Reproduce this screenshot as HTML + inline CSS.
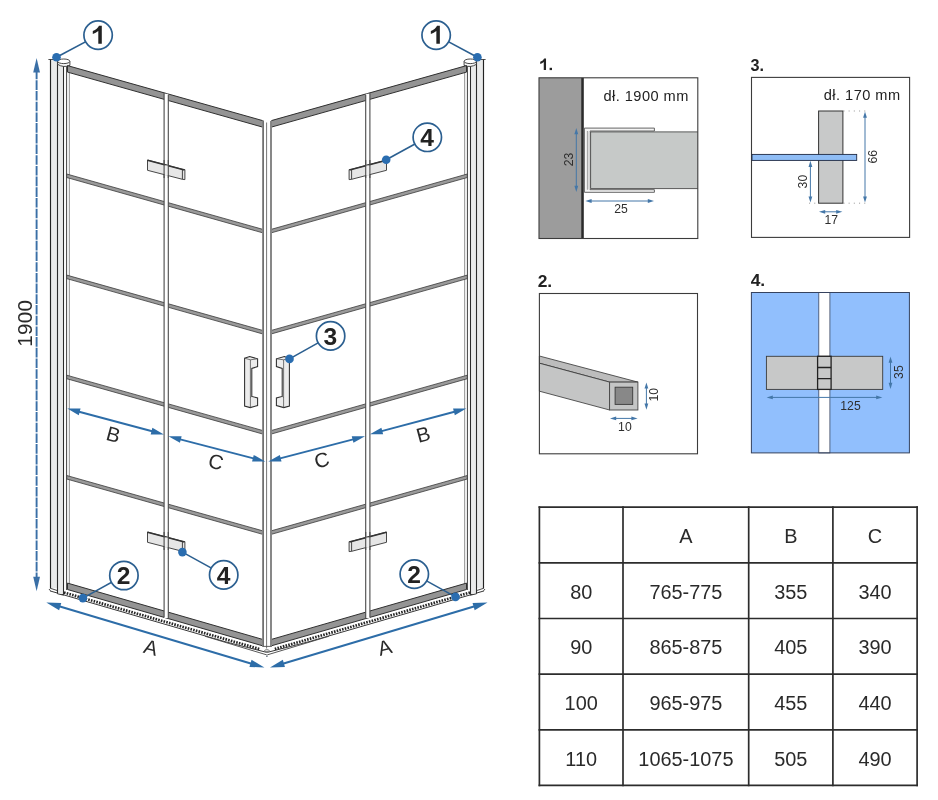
<!DOCTYPE html>
<html><head><meta charset="utf-8"><title>Kabina - wymiary</title>
<style>html,body{margin:0;padding:0;background:#fff}svg{display:block;will-change:transform}text{font-family:"Liberation Sans",sans-serif}</style></head><body>
<svg width="938" height="800" viewBox="0 0 938 800">
<rect width="938" height="800" fill="#fff"/>
<g id="left"><polygon points="63.0,588.35 266.8,647.01 266.8,654.8 63.0,595.75" fill="#fff" stroke="none"/><polyline points="50.0,590.91 225,641.68 266.8,652.4" fill="none" stroke="#383838" stroke-width="1.0"/><polyline points="205,636.22 266.8,654.9" fill="none" stroke="#444" stroke-width="0.9"/><line x1="64.0" y1="592.54" x2="259.6" y2="649.04" stroke="#262626" stroke-width="2.7" stroke-dasharray="1.6 1.2"/><rect x="50.4" y="59.6" width="7" height="528.6" fill="#e9eaea"/><rect x="57.6" y="62.5" width="6" height="531.5" fill="#e9eaea"/><rect x="63.6" y="64" width="3" height="526" fill="#fbfbfb"/><rect x="66.6" y="66" width="3.2" height="518" fill="#ececec"/><line x1="50.5" y1="59.2" x2="50.5" y2="588.5" stroke="#222" stroke-width="1.15"/><line x1="57.5" y1="61" x2="57.5" y2="593.8" stroke="#2a2a2a" stroke-width="1.1"/><line x1="63.5" y1="64" x2="63.5" y2="594" stroke="#2a2a2a" stroke-width="1.05"/><line x1="66.5" y1="66" x2="66.5" y2="590" stroke="#4a4a4a" stroke-width="0.95"/><line x1="69.5" y1="67" x2="69.5" y2="584" stroke="#9a9a9a" stroke-width="0.9"/><path d="M48.4,59.5 L57.4,59.5" fill="none" stroke="#3a3a3a" stroke-width="0.9"/><path d="M57.6,61.2 L57.6,64.3 Q63.4,68.0 69.9,65.4 L69.9,61.6 Z" fill="#f7f7f7" stroke="#333" stroke-width="0.9"/><ellipse cx="63.75" cy="61.3" rx="6.15" ry="2.3" fill="#fff" stroke="#333" stroke-width="0.9"/><path d="M50.4,588.3 L57.5,590.6 M57.5,593.8 L63.6,595.2 L63.6,591.5 M49,589 L50.4,590.8" fill="none" stroke="#333" stroke-width="0.9"/><polygon points="67.5,65.6 262.6,120.6 262.6,127.1 67.5,72.1" fill="#949494" stroke="#303030" stroke-width="1"/><polygon points="67.5,583.1 262.6,639.4 262.6,645.8 67.5,589.5" fill="#949494" stroke="#303030" stroke-width="1"/><polygon points="66.7,174.0 262.6,229.3 262.6,232.8 66.7,177.5" fill="#9a9a9a" stroke="#3a3a3a" stroke-width="0.8"/><polygon points="66.7,275.1 262.6,330.40000000000003 262.6,333.90000000000003 66.7,278.6" fill="#9a9a9a" stroke="#3a3a3a" stroke-width="0.8"/><polygon points="66.7,375.2 262.6,430.5 262.6,434.0 66.7,378.7" fill="#9a9a9a" stroke="#3a3a3a" stroke-width="0.8"/><polygon points="66.7,475.5 262.6,530.8 262.6,534.3 66.7,479.0" fill="#9a9a9a" stroke="#3a3a3a" stroke-width="0.8"/><rect x="164.1" y="93.79" width="4.200000000000017" height="524.26" fill="#fff"/><line x1="164.1" y1="93.19" x2="164.1" y2="617.45" stroke="#4a4a4a" stroke-width="1.1"/><line x1="168.3" y1="94.39" x2="168.3" y2="618.65" stroke="#4a4a4a" stroke-width="1.1"/><polygon points="147.5,160.0 182.4,169.3 184.9,169.6 184.9,179.6 182.4,179.3 147.5,170.3" fill="#e6e6e6" stroke="#333" stroke-width="0.9"/><line x1="147.5" y1="160.3" x2="184.5" y2="169.9" stroke="#333" stroke-width="1.5"/><line x1="182.4" y1="169.3" x2="182.4" y2="179.3" stroke="#333" stroke-width="0.9"/><rect x="164.6" y="165.4" width="3.200000000000017" height="10.5" fill="#f0f0f0"/><line x1="164.1" y1="160.0" x2="164.1" y2="178.0" stroke="#4a4a4a" stroke-width="1.1"/><line x1="168.3" y1="160.0" x2="168.3" y2="178.0" stroke="#4a4a4a" stroke-width="1.1"/><polygon points="147.5,532.0 182.4,541.3 184.9,541.6 184.9,551.6 182.4,551.3 147.5,542.3" fill="#e6e6e6" stroke="#333" stroke-width="0.9"/><line x1="147.5" y1="532.3" x2="184.5" y2="541.9" stroke="#333" stroke-width="1.5"/><line x1="182.4" y1="541.3" x2="182.4" y2="551.3" stroke="#333" stroke-width="0.9"/><rect x="164.6" y="537.4" width="3.200000000000017" height="10.5" fill="#f0f0f0"/><line x1="164.1" y1="532.0" x2="164.1" y2="550.0" stroke="#4a4a4a" stroke-width="1.1"/><line x1="168.3" y1="532.0" x2="168.3" y2="550.0" stroke="#4a4a4a" stroke-width="1.1"/><path d="M244.6,358.2 L249.6,356.6 L257.6,358.8 L257.6,366.6 L251.8,368.4 L251.8,396.4 L257.6,398 L257.6,405.6 L250.2,407.6 L244.6,406 Z" fill="#ececec" stroke="#2e2e2e" stroke-width="1.05"/><path d="M244.6,358.2 L250.4,359.8 L250.4,407.4 M250.4,359.8 L257.6,358.8 M251.8,396.4 L250.4,397.4" fill="none" stroke="#555" stroke-width="0.8"/></g>
<g id="right" transform="translate(534,0) scale(-1,1)"><polygon points="63.0,588.35 266.8,647.01 266.8,654.8 63.0,595.75" fill="#fff" stroke="none"/><polyline points="50.0,590.91 225,641.68 266.8,652.4" fill="none" stroke="#383838" stroke-width="1.0"/><polyline points="205,636.22 266.8,654.9" fill="none" stroke="#444" stroke-width="0.9"/><line x1="64.0" y1="592.54" x2="259.6" y2="649.04" stroke="#262626" stroke-width="2.7" stroke-dasharray="1.6 1.2"/><rect x="50.4" y="59.6" width="7" height="528.6" fill="#e9eaea"/><rect x="57.6" y="62.5" width="6" height="531.5" fill="#e9eaea"/><rect x="63.6" y="64" width="3" height="526" fill="#fbfbfb"/><rect x="66.6" y="66" width="3.2" height="518" fill="#ececec"/><line x1="50.5" y1="59.2" x2="50.5" y2="588.5" stroke="#222" stroke-width="1.15"/><line x1="57.5" y1="61" x2="57.5" y2="593.8" stroke="#2a2a2a" stroke-width="1.1"/><line x1="63.5" y1="64" x2="63.5" y2="594" stroke="#2a2a2a" stroke-width="1.05"/><line x1="66.5" y1="66" x2="66.5" y2="590" stroke="#4a4a4a" stroke-width="0.95"/><line x1="69.5" y1="67" x2="69.5" y2="584" stroke="#9a9a9a" stroke-width="0.9"/><path d="M48.4,59.5 L57.4,59.5" fill="none" stroke="#3a3a3a" stroke-width="0.9"/><path d="M57.6,61.2 L57.6,64.3 Q63.4,68.0 69.9,65.4 L69.9,61.6 Z" fill="#f7f7f7" stroke="#333" stroke-width="0.9"/><ellipse cx="63.75" cy="61.3" rx="6.15" ry="2.3" fill="#fff" stroke="#333" stroke-width="0.9"/><path d="M50.4,588.3 L57.5,590.6 M57.5,593.8 L63.6,595.2 L63.6,591.5 M49,589 L50.4,590.8" fill="none" stroke="#333" stroke-width="0.9"/><polygon points="67.5,65.6 262.6,120.6 262.6,127.1 67.5,72.1" fill="#949494" stroke="#303030" stroke-width="1"/><polygon points="67.5,583.1 262.6,639.4 262.6,645.8 67.5,589.5" fill="#949494" stroke="#303030" stroke-width="1"/><polygon points="66.7,174.0 262.6,229.3 262.6,232.8 66.7,177.5" fill="#9a9a9a" stroke="#3a3a3a" stroke-width="0.8"/><polygon points="66.7,275.1 262.6,330.40000000000003 262.6,333.90000000000003 66.7,278.6" fill="#9a9a9a" stroke="#3a3a3a" stroke-width="0.8"/><polygon points="66.7,375.2 262.6,430.5 262.6,434.0 66.7,378.7" fill="#9a9a9a" stroke="#3a3a3a" stroke-width="0.8"/><polygon points="66.7,475.5 262.6,530.8 262.6,534.3 66.7,479.0" fill="#9a9a9a" stroke="#3a3a3a" stroke-width="0.8"/><rect x="164.1" y="93.79" width="4.200000000000017" height="524.26" fill="#fff"/><line x1="164.1" y1="93.19" x2="164.1" y2="617.45" stroke="#4a4a4a" stroke-width="1.1"/><line x1="168.3" y1="94.39" x2="168.3" y2="618.65" stroke="#4a4a4a" stroke-width="1.1"/><polygon points="147.5,160.0 182.4,169.3 184.9,169.6 184.9,179.6 182.4,179.3 147.5,170.3" fill="#e6e6e6" stroke="#333" stroke-width="0.9"/><line x1="147.5" y1="160.3" x2="184.5" y2="169.9" stroke="#333" stroke-width="1.5"/><line x1="182.4" y1="169.3" x2="182.4" y2="179.3" stroke="#333" stroke-width="0.9"/><rect x="164.6" y="165.4" width="3.200000000000017" height="10.5" fill="#f0f0f0"/><line x1="164.1" y1="160.0" x2="164.1" y2="178.0" stroke="#4a4a4a" stroke-width="1.1"/><line x1="168.3" y1="160.0" x2="168.3" y2="178.0" stroke="#4a4a4a" stroke-width="1.1"/><polygon points="147.5,532.0 182.4,541.3 184.9,541.6 184.9,551.6 182.4,551.3 147.5,542.3" fill="#e6e6e6" stroke="#333" stroke-width="0.9"/><line x1="147.5" y1="532.3" x2="184.5" y2="541.9" stroke="#333" stroke-width="1.5"/><line x1="182.4" y1="541.3" x2="182.4" y2="551.3" stroke="#333" stroke-width="0.9"/><rect x="164.6" y="537.4" width="3.200000000000017" height="10.5" fill="#f0f0f0"/><line x1="164.1" y1="532.0" x2="164.1" y2="550.0" stroke="#4a4a4a" stroke-width="1.1"/><line x1="168.3" y1="532.0" x2="168.3" y2="550.0" stroke="#4a4a4a" stroke-width="1.1"/><path d="M244.6,358.2 L249.6,356.6 L257.6,358.8 L257.6,366.6 L251.8,368.4 L251.8,396.4 L257.6,398 L257.6,405.6 L250.2,407.6 L244.6,406 Z" fill="#ececec" stroke="#2e2e2e" stroke-width="1.05"/><path d="M244.6,358.2 L250.4,359.8 L250.4,407.4 M250.4,359.8 L257.6,358.8 M251.8,396.4 L250.4,397.4" fill="none" stroke="#555" stroke-width="0.8"/></g>
<rect x="262.3" y="120.8" width="9.6" height="526" fill="#fff"/>
<line x1="263.1" y1="120.6" x2="263.1" y2="646.5" stroke="#6a6a6a" stroke-width="1.7"/>
<line x1="266.6" y1="122.5" x2="266.6" y2="648.5" stroke="#777" stroke-width="1.0"/>
<line x1="271.0" y1="121" x2="271.0" y2="646.5" stroke="#6a6a6a" stroke-width="1.6"/>
<path d="M262.4,646.4 L271.8,646.4" fill="none" stroke="#555" stroke-width="0.9"/>
<ellipse cx="266.9" cy="650.6" rx="2.3" ry="0.9" fill="#fff" stroke="#444" stroke-width="0.7"/>
<circle cx="266.9" cy="656.2" r="0.8" fill="#4a5a6a"/>
<line x1="36.60" y1="69.60" x2="36.60" y2="579.70" stroke="#3a6fa6" stroke-width="1.9" stroke-dasharray="9.6 1.1"/><polygon points="36.60,591.30 33.20,576.80 40.00,576.80" fill="#3a6fa6"/><polygon points="36.60,58.00 33.20,72.50 40.00,72.50" fill="#3a6fa6"/>
<line x1="57.42" y1="605.81" x2="253.28" y2="664.19" stroke="#2d6da8" stroke-width="2.0"/><polygon points="264.40,667.50 249.45,666.90 251.56,659.81" fill="#2d6da8"/><polygon points="46.30,602.50 59.14,610.19 61.25,603.10" fill="#2d6da8"/>
<line x1="281.11" y1="664.18" x2="476.39" y2="605.82" stroke="#2d6da8" stroke-width="2.0"/><polygon points="487.50,602.50 474.67,610.20 472.55,603.11" fill="#2d6da8"/><polygon points="270.00,667.50 284.95,666.89 282.83,659.80" fill="#2d6da8"/>
<line x1="77.19" y1="411.24" x2="154.01" y2="431.76" stroke="#2d6da8" stroke-width="1.9"/><polygon points="163.90,434.40 150.66,434.38 152.41,427.81" fill="#2d6da8"/><polygon points="67.30,408.60 78.79,415.19 80.54,408.62" fill="#2d6da8"/>
<line x1="178.31" y1="438.88" x2="255.39" y2="458.92" stroke="#2d6da8" stroke-width="1.9"/><polygon points="265.30,461.50 252.06,461.57 253.77,454.99" fill="#2d6da8"/><polygon points="168.40,436.30 179.93,442.81 181.64,436.23" fill="#2d6da8"/>
<line x1="278.21" y1="458.92" x2="355.09" y2="438.88" stroke="#2d6da8" stroke-width="1.9"/><polygon points="365.00,436.30 353.47,442.82 351.76,436.24" fill="#2d6da8"/><polygon points="268.30,461.50 281.54,461.56 279.83,454.98" fill="#2d6da8"/>
<line x1="379.79" y1="431.66" x2="456.41" y2="411.24" stroke="#2d6da8" stroke-width="1.9"/><polygon points="466.30,408.60 454.81,415.18 453.06,408.61" fill="#2d6da8"/><polygon points="369.90,434.30 383.14,434.29 381.39,427.72" fill="#2d6da8"/>
<text transform="translate(31.7,323.2) rotate(-90)" text-anchor="middle" font-size="20.6" letter-spacing="0.3" fill="#2a2a2a">1900</text>
<text transform="translate(113.5,434.2) rotate(15)" x="0" y="7.3" text-anchor="middle" font-size="20.4" fill="#2a2a2a">B</text>
<text transform="translate(215.9,461.5) rotate(15)" x="0" y="7.3" text-anchor="middle" font-size="20.4" fill="#2a2a2a">C</text>
<text transform="translate(321.6,459.8) rotate(-15)" x="0" y="7.3" text-anchor="middle" font-size="20.4" fill="#2a2a2a">C</text>
<text transform="translate(423.1,434.2) rotate(-15)" x="0" y="7.3" text-anchor="middle" font-size="20.4" fill="#2a2a2a">B</text>
<text transform="translate(150.9,647.2) rotate(15)" x="0" y="7.3" text-anchor="middle" font-size="20.4" fill="#2a2a2a">A</text>
<text transform="translate(384.6,647.2) rotate(-15)" x="0" y="7.3" text-anchor="middle" font-size="20.4" fill="#2a2a2a">A</text>
<line x1="98.1" y1="35.1" x2="56.5" y2="57.3" stroke="#2b5f90" stroke-width="1.6"/><circle cx="56.5" cy="57.3" r="4.3" fill="#2a6db0"/><circle cx="98.1" cy="35.1" r="14.2" fill="#fff" stroke="#2b5f90" stroke-width="1.7"/><path d="M101.80,43.70 L98.30,43.70 L98.30,31.10 Q95.80,33.20 92.80,34.10 L92.80,31.00 Q97.50,29.20 99.00,25.80 L101.80,25.80 Z" fill="#222"/>
<line x1="436.15" y1="35.1" x2="477.4" y2="57.3" stroke="#2b5f90" stroke-width="1.6"/><circle cx="477.4" cy="57.3" r="4.3" fill="#2a6db0"/><circle cx="436.15" cy="35.1" r="14.2" fill="#fff" stroke="#2b5f90" stroke-width="1.7"/><path d="M439.85,43.70 L436.35,43.70 L436.35,31.10 Q433.85,33.20 430.85,34.10 L430.85,31.00 Q435.55,29.20 437.05,25.80 L439.85,25.80 Z" fill="#222"/>
<line x1="427.3" y1="137.3" x2="386.2" y2="159.8" stroke="#2b5f90" stroke-width="1.6"/><circle cx="386.2" cy="159.8" r="4.3" fill="#2a6db0"/><circle cx="427.3" cy="137.3" r="14.2" fill="#fff" stroke="#2b5f90" stroke-width="1.7"/><text x="427.1" y="146.10000000000002" text-anchor="middle" font-size="24.6" font-weight="bold" fill="#222">4</text>
<line x1="330.6" y1="335.9" x2="289.5" y2="358.9" stroke="#2b5f90" stroke-width="1.6"/><circle cx="289.5" cy="358.9" r="4.3" fill="#2a6db0"/><circle cx="330.6" cy="335.9" r="14.2" fill="#fff" stroke="#2b5f90" stroke-width="1.7"/><text x="330.40000000000003" y="344.7" text-anchor="middle" font-size="24.6" font-weight="bold" fill="#222">3</text>
<line x1="123.9" y1="575.5" x2="82.9" y2="598.1" stroke="#2b5f90" stroke-width="1.6"/><circle cx="82.9" cy="598.1" r="4.3" fill="#2a6db0"/><circle cx="123.9" cy="575.5" r="14.2" fill="#fff" stroke="#2b5f90" stroke-width="1.7"/><text x="123.7" y="584.3" text-anchor="middle" font-size="24.6" font-weight="bold" fill="#222">2</text>
<line x1="223.7" y1="574.9" x2="182.4" y2="552.1" stroke="#2b5f90" stroke-width="1.6"/><circle cx="182.4" cy="552.1" r="4.3" fill="#2a6db0"/><circle cx="223.7" cy="574.9" r="14.2" fill="#fff" stroke="#2b5f90" stroke-width="1.7"/><text x="223.5" y="583.6999999999999" text-anchor="middle" font-size="24.6" font-weight="bold" fill="#222">4</text>
<line x1="414.3" y1="574.1" x2="455.5" y2="596.9" stroke="#2b5f90" stroke-width="1.6"/><circle cx="455.5" cy="596.9" r="4.3" fill="#2a6db0"/><circle cx="414.3" cy="574.1" r="14.2" fill="#fff" stroke="#2b5f90" stroke-width="1.7"/><text x="414.1" y="582.9" text-anchor="middle" font-size="24.6" font-weight="bold" fill="#222">2</text>
<path d="M546.03,70.10 L543.76,70.10 L543.76,61.93 Q542.14,63.30 540.20,63.88 L540.20,61.87 Q543.25,60.70 544.22,58.50 L546.03,58.50 Z" fill="#222"/><rect x="549.6" y="67.8" width="2.4" height="2.3" fill="#222"/><text x="750.6" y="70.5" font-size="16.2" font-weight="bold" fill="#222">3.</text><text x="537.7" y="286.9" font-size="17.4" font-weight="bold" fill="#222">2.</text><text x="750.7" y="285.8" font-size="17.4" font-weight="bold" fill="#222">4.</text><rect x="539" y="77.8" width="158.8" height="160.7" fill="#fff"/><rect x="539" y="77.8" width="42.5" height="160.7" fill="#9c9c9c"/><rect x="581.2" y="77.8" width="2.6" height="160.7" fill="#2b2b2b"/><path d="M584.4,128.1 H654.4 V131 H590 V189.7 H654.4 V192.3 H584.4 Z" fill="#f4f4f4" stroke="#555" stroke-width="0.9"/><path d="M587.4,131 V189.7" fill="none" stroke="#777" stroke-width="0.8"/><rect x="587.8" y="131.4" width="2" height="58" fill="#dcdcdc"/><rect x="590.6" y="131.9" width="107.2" height="56.7" fill="#c6c9c8"/><path d="M697.8,131.9 H590.6 V188.6 H697.8" fill="none" stroke="#4a4a4a" stroke-width="0.9"/><rect x="539" y="77.8" width="158.8" height="160.7" fill="none" stroke="#3c3c3c" stroke-width="1.1"/><text x="603.5" y="100.7" font-size="14.6" letter-spacing="0.45" fill="#222">dł. 1900 mm</text><line x1="576.30" y1="133.06" x2="576.30" y2="187.04" stroke="#4477a8" stroke-width="1.0"/><polygon points="576.30,192.00 574.40,185.80 578.20,185.80" fill="#4477a8"/><polygon points="576.30,128.10 574.40,134.30 578.20,134.30" fill="#4477a8"/><line x1="590.36" y1="201.00" x2="649.04" y2="201.00" stroke="#4477a8" stroke-width="1.0"/><polygon points="654.00,201.00 647.80,202.90 647.80,199.10" fill="#4477a8"/><polygon points="585.40,201.00 591.60,202.90 591.60,199.10" fill="#4477a8"/><text transform="translate(573.3,159.4) rotate(-90)" text-anchor="middle" font-size="12.2" fill="#2e2e2e">23</text><text x="621" y="212.8" text-anchor="middle" font-size="12.2" fill="#2e2e2e">25</text><rect x="751.5" y="77.4" width="158.1" height="160" fill="#fff" stroke="#3c3c3c" stroke-width="1.1"/><rect x="818.6" y="111" width="24.3" height="92.2" fill="#c8c9c9" stroke="#333" stroke-width="1"/><rect x="752" y="154.4" width="104.7" height="6" fill="#8fbdf6" stroke="#1f2a44" stroke-width="0.9"/><line x1="843.4" y1="111" x2="868.5" y2="111" stroke="#777" stroke-width="0.7" stroke-dasharray="1.1 4.1"/><line x1="843.4" y1="203.2" x2="868.5" y2="203.2" stroke="#777" stroke-width="0.7" stroke-dasharray="1.1 4.1"/><line x1="809" y1="203.2" x2="818" y2="203.2" stroke="#777" stroke-width="0.7" stroke-dasharray="1.1 4.1"/><text x="823.8" y="99.7" font-size="14.6" letter-spacing="0.45" fill="#222">dł. 170 mm</text><line x1="865.00" y1="116.56" x2="865.00" y2="197.64" stroke="#4477a8" stroke-width="1.0"/><polygon points="865.00,202.60 863.10,196.40 866.90,196.40" fill="#4477a8"/><polygon points="865.00,111.60 863.10,117.80 866.90,117.80" fill="#4477a8"/><line x1="810.40" y1="165.76" x2="810.40" y2="197.64" stroke="#4477a8" stroke-width="1.0"/><polygon points="810.40,202.60 808.50,196.40 812.30,196.40" fill="#4477a8"/><polygon points="810.40,160.80 808.50,167.00 812.30,167.00" fill="#4477a8"/><line x1="823.96" y1="211.80" x2="837.44" y2="211.80" stroke="#4477a8" stroke-width="1.0"/><polygon points="842.40,211.80 836.20,213.70 836.20,209.90" fill="#4477a8"/><polygon points="819.00,211.80 825.20,213.70 825.20,209.90" fill="#4477a8"/><text transform="translate(877,156.7) rotate(-90)" text-anchor="middle" font-size="12.2" fill="#2e2e2e">66</text><text transform="translate(807.2,181.6) rotate(-90)" text-anchor="middle" font-size="12.2" fill="#2e2e2e">30</text><text x="831.3" y="224" text-anchor="middle" font-size="12.2" fill="#2e2e2e">17</text><rect x="539.4" y="293.5" width="158.1" height="160.3" fill="#fff"/><polygon points="539.4,356 637.9,382.1 609.6,382.1 539.4,363.2" fill="#bcbcbc" stroke="#333" stroke-width="0.8"/><polygon points="539.4,363.2 609.6,382.1 609.6,410 539.4,391.2" fill="#c4c5c5" stroke="#333" stroke-width="0.8"/><rect x="609.6" y="382.1" width="28.3" height="27.9" fill="#c4c5c5" stroke="#444" stroke-width="0.9"/><rect x="615.1" y="387.2" width="17.6" height="17.2" fill="#888" stroke="#3a3a3a" stroke-width="0.9"/><rect x="539.4" y="293.5" width="158.1" height="160.3" fill="none" stroke="#3c3c3c" stroke-width="1.1"/><line x1="646.40" y1="387.36" x2="646.40" y2="404.74" stroke="#4477a8" stroke-width="1.0"/><polygon points="646.40,409.70 644.50,403.50 648.30,403.50" fill="#4477a8"/><polygon points="646.40,382.40 644.50,388.60 648.30,388.60" fill="#4477a8"/><line x1="614.96" y1="418.40" x2="632.64" y2="418.40" stroke="#4477a8" stroke-width="1.0"/><polygon points="637.60,418.40 631.40,420.30 631.40,416.50" fill="#4477a8"/><polygon points="610.00,418.40 616.20,420.30 616.20,416.50" fill="#4477a8"/><text transform="translate(657.9,394.8) rotate(-90)" text-anchor="middle" font-size="12.2" fill="#2e2e2e">10</text><text x="624.9" y="430.6" text-anchor="middle" font-size="12.2" fill="#2e2e2e">10</text><rect x="751.4" y="292.5" width="158" height="160.4" fill="#91bffd"/><rect x="818.8" y="292.5" width="11.1" height="160.4" fill="#fff" stroke="#3a4660" stroke-width="0.8"/><rect x="766.4" y="356.3" width="116.3" height="33.1" fill="#c7c8c8" stroke="#3a3a3a" stroke-width="0.9"/><rect x="817.6" y="356.3" width="13.5" height="33.1" fill="#c7c8c8" stroke="#222" stroke-width="1.3"/><path d="M817.6,367.5 H831.1 M817.6,378.6 H831.1" stroke="#222" stroke-width="1.3" fill="none"/><rect x="751.4" y="292.5" width="158" height="160.4" fill="none" stroke="#35425e" stroke-width="1"/><line x1="771.56" y1="397.40" x2="877.44" y2="397.40" stroke="#4477a8" stroke-width="1.0"/><polygon points="882.40,397.40 876.20,399.30 876.20,395.50" fill="#4477a8"/><polygon points="766.60,397.40 772.80,399.30 772.80,395.50" fill="#4477a8"/><line x1="890.50" y1="361.56" x2="890.50" y2="384.04" stroke="#4477a8" stroke-width="1.0"/><polygon points="890.50,389.00 888.60,382.80 892.40,382.80" fill="#4477a8"/><polygon points="890.50,356.60 888.60,362.80 892.40,362.80" fill="#4477a8"/><text x="850.5" y="409.9" text-anchor="middle" font-size="12.2" fill="#2e2e2e">125</text><text transform="translate(903,372.1) rotate(-90)" text-anchor="middle" font-size="12.2" fill="#2e2e2e">35</text>
<rect x="539.4" y="507.2" width="377.70000000000005" height="278.2" fill="#fff"/><line x1="539.4" y1="506.34999999999997" x2="539.4" y2="786.25" stroke="#2c2c2c" stroke-width="1.7"/><line x1="623.0" y1="506.34999999999997" x2="623.0" y2="786.25" stroke="#2c2c2c" stroke-width="1.7"/><line x1="748.7" y1="506.34999999999997" x2="748.7" y2="786.25" stroke="#2c2c2c" stroke-width="1.7"/><line x1="832.9" y1="506.34999999999997" x2="832.9" y2="786.25" stroke="#2c2c2c" stroke-width="1.7"/><line x1="917.1" y1="506.34999999999997" x2="917.1" y2="786.25" stroke="#2c2c2c" stroke-width="1.7"/><line x1="538.55" y1="507.2" x2="917.95" y2="507.2" stroke="#2c2c2c" stroke-width="1.7"/><line x1="538.55" y1="562.9" x2="917.95" y2="562.9" stroke="#2c2c2c" stroke-width="1.7"/><line x1="538.55" y1="618.5" x2="917.95" y2="618.5" stroke="#2c2c2c" stroke-width="1.7"/><line x1="538.55" y1="674.1" x2="917.95" y2="674.1" stroke="#2c2c2c" stroke-width="1.7"/><line x1="538.55" y1="729.8" x2="917.95" y2="729.8" stroke="#2c2c2c" stroke-width="1.7"/><line x1="538.55" y1="785.4" x2="917.95" y2="785.4" stroke="#2c2c2c" stroke-width="1.7"/><text x="685.9" y="542.9" text-anchor="middle" font-size="19.9" fill="#2a2a2a">A</text><text x="790.8" y="542.9" text-anchor="middle" font-size="19.9" fill="#2a2a2a">B</text><text x="875.0" y="542.9" text-anchor="middle" font-size="19.9" fill="#2a2a2a">C</text><text x="581.2" y="598.6" text-anchor="middle" font-size="19.9" fill="#2a2a2a">80</text><text x="685.9" y="598.6" text-anchor="middle" font-size="19.9" fill="#2a2a2a">765-775</text><text x="790.8" y="598.6" text-anchor="middle" font-size="19.9" fill="#2a2a2a">355</text><text x="875.0" y="598.6" text-anchor="middle" font-size="19.9" fill="#2a2a2a">340</text><text x="581.2" y="654.2" text-anchor="middle" font-size="19.9" fill="#2a2a2a">90</text><text x="685.9" y="654.2" text-anchor="middle" font-size="19.9" fill="#2a2a2a">865-875</text><text x="790.8" y="654.2" text-anchor="middle" font-size="19.9" fill="#2a2a2a">405</text><text x="875.0" y="654.2" text-anchor="middle" font-size="19.9" fill="#2a2a2a">390</text><text x="581.2" y="709.9" text-anchor="middle" font-size="19.9" fill="#2a2a2a">100</text><text x="685.9" y="709.9" text-anchor="middle" font-size="19.9" fill="#2a2a2a">965-975</text><text x="790.8" y="709.9" text-anchor="middle" font-size="19.9" fill="#2a2a2a">455</text><text x="875.0" y="709.9" text-anchor="middle" font-size="19.9" fill="#2a2a2a">440</text><text x="581.2" y="765.5" text-anchor="middle" font-size="19.9" fill="#2a2a2a">110</text><text x="685.9" y="765.5" text-anchor="middle" font-size="19.9" fill="#2a2a2a">1065-1075</text><text x="790.8" y="765.5" text-anchor="middle" font-size="19.9" fill="#2a2a2a">505</text><text x="875.0" y="765.5" text-anchor="middle" font-size="19.9" fill="#2a2a2a">490</text>
</svg></body></html>
